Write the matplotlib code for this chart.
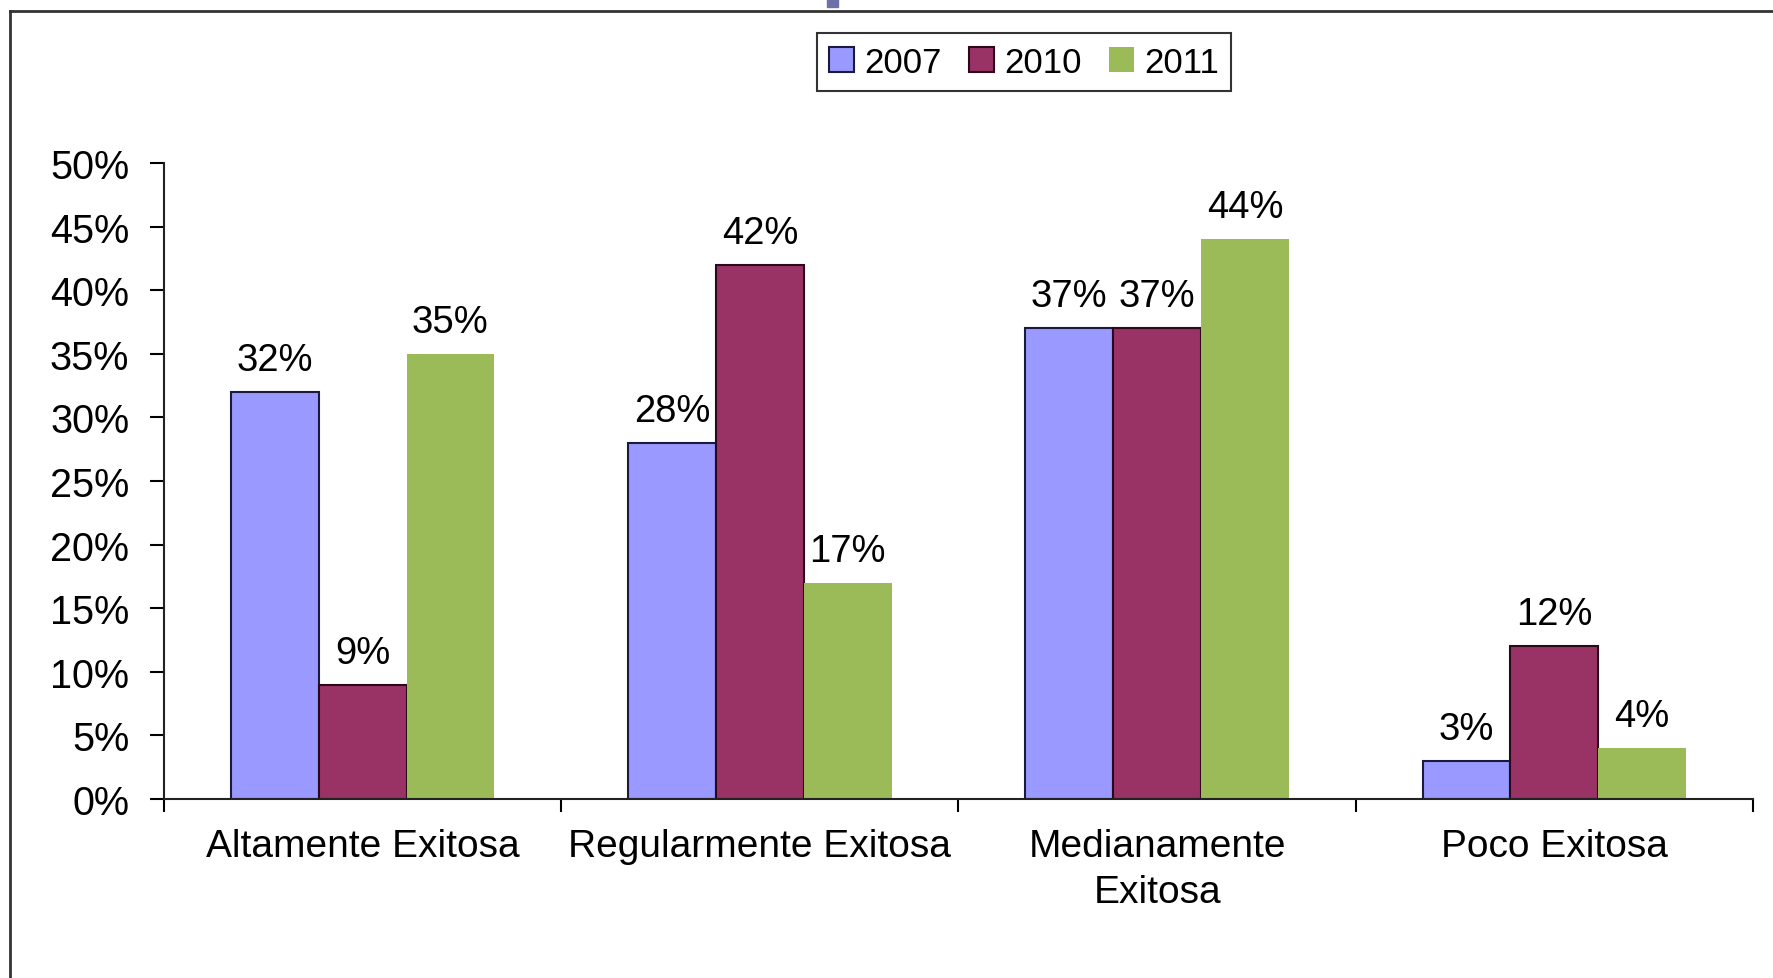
import numpy as np
import matplotlib as mpl
mpl.rcParams.update({'font.family': ['Liberation Sans', 'DejaVu Sans'], 'font.size': 27})
from matplotlib import pyplot as plt
from matplotlib.lines import Line2D
from matplotlib.patches import Rectangle

categories = ['Altamente Exitosa', 'Regularmente Exitosa', 'Medianamente\nExitosa', 'Poco Exitosa']
years = ['2007', '2010', '2011']
v2007 = [32, 28, 37, 3]
v2010 = [9, 42, 37, 12]
v2011 = [35, 17, 44, 4]
yticks = [0, 5, 10, 15, 20, 25, 30, 35, 40, 45, 50]

colors = ['#9999FF', '#993366', '#9BBB59']
edges = ['#1a1a40', '#2a0a1a', 'none']

fig = plt.figure(figsize=(17.73, 9.79), dpi=100)
ax = fig.add_axes([0.0925, 0.1828, 0.8962, 0.6497])

x = np.arange(len(categories))
w = 0.221
for i, vals in enumerate([v2007, v2010, v2011]):
    pos = x + (i - 1) * w
    ax.bar(pos, vals, width=w, color=colors[i], edgecolor=edges[i], linewidth=1.5,
           label=years[i])
    for px, v in zip(pos, vals):
        ax.annotate('%d%%' % v, (px, v), xytext=(0, 10), textcoords='offset points',
                    ha='center', va='bottom', fontsize=27.5)

ax.set_xlim(-0.5, len(categories) - 0.5)
ax.set_ylim(0, 50)
ax.set_yticks(yticks)
ax.set_yticklabels(['%d%%' % t for t in yticks], fontsize=28.5)
ax.set_xticks(np.arange(len(categories) + 1) - 0.5)
ax.set_xticklabels([])
ax.set_xticks(x, minor=True)
ax.set_xticklabels(categories, minor=True, fontsize=28, linespacing=1.35)
ax.tick_params(axis='x', which='major', direction='out', length=9, width=1.5)
ax.tick_params(axis='x', which='minor', length=0, pad=21)
ax.tick_params(axis='y', direction='out', length=10, width=1.5, pad=15)
for s in ['top', 'right']:
    ax.spines[s].set_visible(False)
for s in ['left', 'bottom']:
    ax.spines[s].set_linewidth(1.5)
    ax.spines[s].set_color('#222222')

leg = fig.legend(loc='center', bbox_to_anchor=(0.5776, 0.9356), ncol=3, fontsize=25,
                 frameon=True, fancybox=False, edgecolor='black', handlelength=0.7,
                 handleheight=0.7, handletextpad=0.3, columnspacing=0.8,
                 borderpad=0.35)
leg.get_frame().set_linewidth(1.5)

# outer frame of the chart area (only top and left visible)
fig.add_artist(Line2D([10 / 1773, 1.0], [1 - 12 / 979, 1 - 12 / 979], color='#333333', lw=2))
fig.add_artist(Line2D([10 / 1773, 10 / 1773], [0, 1 - 12 / 979], color='#333333', lw=2))
fig.add_artist(Rectangle((827 / 1773, 1 - 8 / 979), 11 / 1773, 8 / 979, color='#7070A8'))

fig.savefig('out.png', dpi=100)
